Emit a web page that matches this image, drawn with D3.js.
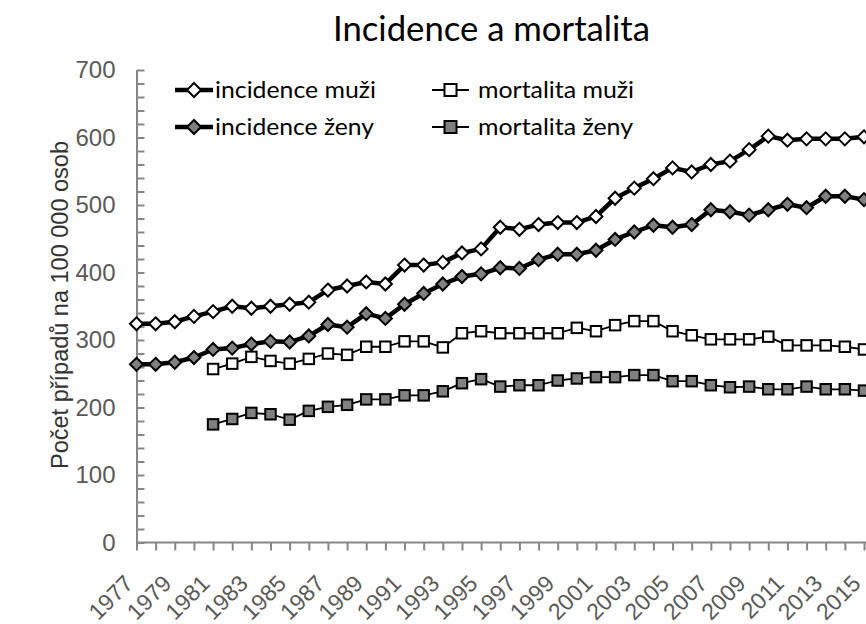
<!DOCTYPE html>
<html><head><meta charset="utf-8">
<script src="https://cdn.jsdelivr.net/npm/d3@7"></script>
<style>body{margin:0;background:#fff}svg{display:block}</style>
</head><body>
<svg id="c" width="866" height="624"></svg>
<script>
const years = d3.range(1977, 2016);
const incidenceMuzi = [324,324,327,335,342,350,347,350,353,356,374,380,386,383,411,411,415,429,435,467,464,471,474,474,483,510,525,539,555,549,560,565,582,602,596,598,598,598,601];
const incidenceZeny = [264,264,267,274,286,288,294,298,297,306,323,319,339,332,353,369,383,394,398,407,406,419,427,427,433,449,460,470,467,471,493,490,485,493,501,496,513,513,508];
const mortalitaMuzi = [null,null,null,null,257,265,275,269,265,272,280,278,290,290,298,298,289,310,313,310,310,310,310,318,313,322,328,328,313,307,301,301,301,305,292,292,292,290,286];
const mortalitaZeny = [null,null,null,null,175,183,192,190,182,195,201,204,212,212,218,218,224,236,242,231,233,233,240,243,245,245,248,248,239,239,233,230,231,227,227,231,227,227,225];
const yTicks = [0,100,200,300,400,500,600,700];
const seriesNames = ["incidence muži","incidence ženy","mortalita muži","mortalita ženy"];
const titleText = "Incidence a mortalita";
const yTitle = "Počet případů na 100 000 osob";

const series = [
  {name: seriesNames[0], values: incidenceMuzi, marker: "diamond", fill: "#fff", lw: 4.5},
  {name: seriesNames[1], values: incidenceZeny, marker: "diamond", fill: "#808080", lw: 4.5},
  {name: seriesNames[2], values: mortalitaMuzi, marker: "square", fill: "#fff", lw: 1.8},
  {name: seriesNames[3], values: mortalitaZeny, marker: "square", fill: "#808080", lw: 1.8}
];

const svg = d3.select("#c");
const x = d3.scalePoint().domain(years).range([136.5, 864]);
const y = d3.scaleLinear().domain([0, 700]).range([542.5, 70]);
const axisColor = "#868686";
const textColor = "#595959";
const sansA = "'Liberation Sans', Arial, sans-serif";
const sansC = "Lato, 'Open Sans', sans-serif";

// title
svg.append("text").attr("x", 491.5).attr("y", 41).attr("text-anchor", "middle")
  .style("font-family", sansC).style("font-size", "35px").attr("fill", "#000")
  .attr("textLength", 317).attr("lengthAdjust", "spacingAndGlyphs")
  .text(titleText);

// y title
svg.append("text").attr("transform", "translate(68,305) rotate(-90)").attr("text-anchor", "middle")
  .style("font-family", sansA).style("font-size", "23.5px").attr("fill", "#333")
  .text(yTitle);

// y axis
const yAxis = d3.axisLeft(y).tickValues(yTicks).tickSize(0).tickPadding(21);
const gy = svg.append("g").attr("transform", "translate(136.5,0)").call(yAxis);
gy.select(".domain").attr("stroke", axisColor).attr("stroke-width", 2);
gy.selectAll("text").attr("fill", textColor).style("font-family", sansA).style("font-size", "24px");
const minor = d3.range(0, 701, 20);
const gyMinor = svg.append("g").attr("transform", "translate(136.5,0)").call(d3.axisRight(y).tickValues(minor).tickSize(8).tickFormat(""));
gyMinor.select(".domain").remove();
gyMinor.selectAll("line").attr("stroke", axisColor).attr("stroke-width", 2);

// x axis
const xAxis = d3.axisBottom(x).tickSize(8).tickFormat("");
const gx = svg.append("g").attr("transform", "translate(0,542.5)").call(xAxis);
gx.select(".domain").attr("d", "M136.5,0H866").attr("stroke", axisColor).attr("stroke-width", 2);
gx.selectAll("line").attr("stroke", axisColor).attr("stroke-width", 2);
svg.append("g").selectAll("text").data(years.filter((d, i) => i % 2 === 0)).join("text")
  .attr("transform", d => `translate(${x(d) - 2},585) rotate(-45)`)
  .attr("text-anchor", "end")
  .style("font-family", sansA).style("font-size", "23px").attr("fill", textColor)
  .text(d => d);

// series
function drawMarker(g, type, cx, cy, fill, big) {
  if (type === "diamond") {
    const r = big ? 7 : 6.5;
    g.append("path").attr("d", `M${cx},${cy - r}L${cx + r},${cy}L${cx},${cy + r}L${cx - r},${cy}Z`)
      .attr("fill", fill).attr("stroke", "#000").attr("stroke-width", 2);
  } else {
    const s = big ? 12 : 10.5;
    g.append("rect").attr("x", cx - s / 2).attr("y", cy - s / 2).attr("width", s).attr("height", s)
      .attr("fill", fill).attr("stroke", "#000").attr("stroke-width", 2);
  }
}
const line = d3.line().defined(d => d[1] != null).x(d => x(d[0])).y(d => y(d[1]));
series.forEach(s => {
  const pts = years.map((yr, i) => [yr, s.values[i]]);
  const g = svg.append("g");
  g.append("path").datum(pts).attr("d", line).attr("fill", "none").attr("stroke", "#000")
    .attr("stroke-width", s.lw).attr("stroke-linejoin", "round");
  pts.filter(p => p[1] != null).forEach(p => drawMarker(g, s.marker, x(p[0]), y(p[1]), s.fill, false));
});

// legend
const legendPos = [[175, 90], [175, 127], [432, 90], [432, 127]];
const legendTextLen = [161, 159, 156, 155];
series.forEach((s, i) => {
  const [lx, ly] = legendPos[i];
  const g = svg.append("g");
  const w = s.marker === "diamond" ? 38 : 37;
  g.append("line").attr("x1", lx).attr("x2", lx + w).attr("y1", ly).attr("y2", ly)
    .attr("stroke", "#000").attr("stroke-width", s.lw);
  drawMarker(g, s.marker, lx + w / 2, ly, s.fill, true);
  g.append("text").attr("x", s.marker === "diamond" ? 215 : 478).attr("y", ly + 7.5)
    .style("font-family", sansC).style("font-size", "24px").attr("fill", "#000")
    .attr("textLength", legendTextLen[i]).attr("lengthAdjust", "spacingAndGlyphs")
    .text(s.name);
});
</script>
</body></html>
